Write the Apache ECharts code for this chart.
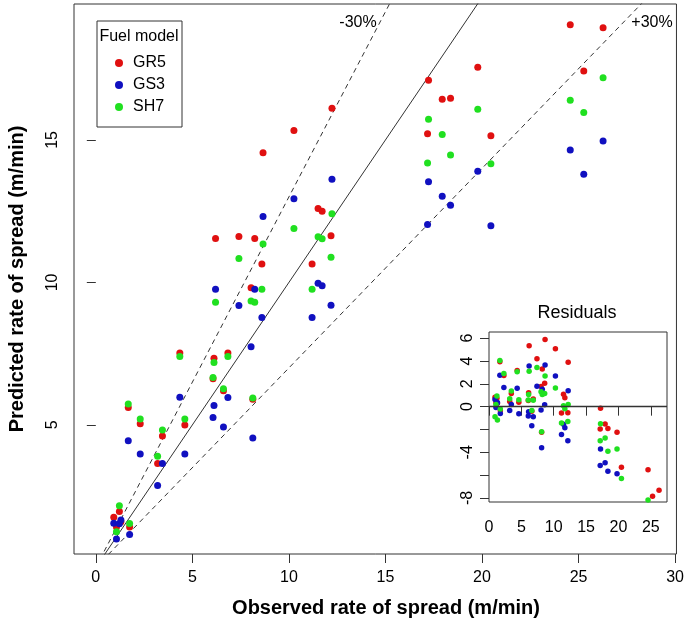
<!DOCTYPE html>
<html>
<head>
<meta charset="utf-8">
<script src="https://cdn.jsdelivr.net/npm/echarts@6/dist/echarts.min.js"></script>
<style>
html, body { margin: 0; padding: 0; background: #fff; }
#main { width: 687px; height: 627px; }
</style>
</head>
<body>
<div id="main"></div>
<script>
// observed rate of spread (m/min), one entry per fire
var observed = [0.93, 1.07, 1.22, 1.30, 1.68, 1.75, 2.30, 3.20, 3.45, 4.35, 4.61, 6.07, 6.12, 6.20, 6.61, 6.84, 7.41, 8.04, 8.13, 8.23, 8.60, 8.66, 10.26, 11.20, 11.51, 11.72, 12.18, 12.23, 17.18, 17.23, 17.94, 18.37, 19.78, 20.46, 24.57, 25.27, 26.27];
// predicted rate of spread per fuel model
var predGR5 = [1.76, 1.42, 1.96, 1.60, 5.61, 1.42, 5.04, 3.65, 4.61, 7.52, 5.00, 6.62, 7.34, 11.54, 6.20, 7.52, 11.61, 9.81, 5.90, 11.54, 10.65, 14.55, 15.33, 10.65, 12.59, 12.50, 11.64, 16.11, 15.22, 17.09, 16.43, 16.46, 17.55, 15.15, 19.04, 17.42, 18.94];
var predGS3 = [1.55, 1.00, 1.53, 1.66, 4.44, 1.15, 3.98, 2.87, 3.65, 5.97, 3.98, 5.26, 5.68, 9.76, 4.93, 5.96, 9.19, 7.74, 4.54, 9.76, 8.77, 12.31, 12.94, 8.77, 9.97, 9.88, 9.20, 13.62, 12.03, 13.53, 13.02, 12.71, 13.90, 11.99, 14.65, 13.80, 14.96];
var predSH7 = [0.05, 1.25, 2.16, 0.13, 5.73, 1.54, 5.21, 3.90, 4.82, 7.40, 5.21, 6.66, 7.19, 9.30, 6.27, 7.40, 10.84, 9.35, 5.94, 9.30, 9.76, 11.35, 11.89, 9.76, 11.60, 11.53, 10.88, 12.41, 14.19, 15.73, 15.19, 14.47, 16.08, 14.16, 16.39, 15.96, 17.18];

var modelNames = ['GR5', 'GS3', 'SH7'];
var modelColors = ['#e01010', '#1010c0', '#20e020'];
var refSlopes = [1, 1.3, 0.7];
var mainXTicks = [0, 5, 10, 15, 20, 25, 30];
var mainYTicks = [5, 10, 15];
var insetXTicks = [0, 5, 10, 15, 20, 25];
var insetYTicks = [-8, -6, -4, -2, 0, 2, 4, 6];
var insetYLabels = [-8, -4, 0, 2, 4, 6];

var FONT = 'Liberation Sans, Arial, sans-serif';
var myChart = echarts.init(document.getElementById('main'));

var preds = [predGR5, predGS3, predSH7];
var series = [];

// reference lines 1:1 and +/-30%
for (var k = 0; k < refSlopes.length; k++) {
    series.push({
        type: 'line',
        xAxisIndex: 0,
        yAxisIndex: 0,
        data: [[0, 0], [30, 30 * refSlopes[k]]],
        symbol: 'none',
        silent: true,
        z: 1,
        lineStyle: { color: '#333', width: 1, type: refSlopes[k] == 1 ? 'solid' : [5, 4] }
    });
}

for (var m = 0; m < modelNames.length; m++) {
    var pts = [];
    var res = [];
    for (var i = 0; i < observed.length; i++) {
        pts.push([observed[i], preds[m][i]]);
        res.push([observed[i], +(preds[m][i] - observed[i]).toFixed(2)]);
    }
    series.push({
        name: modelNames[m],
        type: 'scatter',
        xAxisIndex: 0,
        yAxisIndex: 0,
        data: pts,
        symbolSize: 7,
        itemStyle: { color: modelColors[m], opacity: 1 },
        z: 3
    });
    var insetSeries = {
        name: modelNames[m],
        type: 'scatter',
        xAxisIndex: 1,
        yAxisIndex: 1,
        data: res,
        symbolSize: 5.5,
        itemStyle: { color: modelColors[m], opacity: 1 },
        z: 3
    };
    if (m == 0) {
        insetSeries.markLine = {
            silent: true,
            symbol: 'none',
            label: { show: false },
            lineStyle: { color: '#333', width: 1.3, type: 'solid' },
            data: [{ yAxis: 0 }]
        };
    }
    series.push(insetSeries);
}

function axisCommon(ticks, labels, rotate, margin) {
    return {
        axisLine: { show: false },
        splitLine: { show: false },
        axisTick: { show: true, inside: false, length: 9, customValues: ticks, lineStyle: { color: '#333' } },
        axisLabel: { customValues: labels, rotate: rotate, margin: margin, color: '#000', fontSize: 16, fontFamily: FONT }
    };
}

var xMain = axisCommon(mainXTicks, mainXTicks, 0, 16);
xMain.type = 'value'; xMain.gridIndex = 0; xMain.min = -1.13; xMain.max = 30.07;
var yMain = axisCommon(mainYTicks, mainYTicks, 90, 13);
yMain.type = 'value'; yMain.gridIndex = 0; yMain.min = 0.47; yMain.max = 19.77;
var xInset = axisCommon(insetXTicks, insetXTicks, 0, 18);
xInset.type = 'value'; xInset.gridIndex = 1; xInset.min = 0; xInset.max = 27.5;
var yInset = axisCommon(insetYTicks, insetYLabels, 90, 13);
yInset.type = 'value'; yInset.gridIndex = 1; yInset.min = -8.35; yInset.max = 6.54;

var option = {
    backgroundColor: '#fff',
    animation: false,
    textStyle: { fontFamily: FONT },
    grid: [
        { left: 74, top: 4, right: 8, bottom: 73, show: true, borderColor: '#333', borderWidth: 1, backgroundColor: 'transparent' },
        { left: 489, top: 332, width: 178, height: 170, show: true, borderColor: '#333', borderWidth: 1, backgroundColor: '#fff' }
    ],
    xAxis: [xMain, xInset],
    yAxis: [yMain, yInset],
    legend: {
        data: modelNames,
        orient: 'vertical',
        left: 115,
        top: 55,
        padding: 0,
        itemGap: 6,
        itemWidth: 8,
        itemHeight: 8,
        icon: 'circle',
        selectedMode: false,
        textStyle: { fontSize: 16, color: '#000', fontFamily: FONT, padding: [0, 0, 0, 5] }
    },
    graphic: [
        { type: 'rect', shape: { x: 97, y: 21, width: 85, height: 106 }, style: { fill: 'none', stroke: '#333', lineWidth: 1 }, z: 10 },
        { type: 'text', x: 139, y: 37, style: { text: 'Fuel model', fontSize: 16, fontFamily: FONT, fill: '#000', align: 'center', verticalAlign: 'middle' }, z: 10 },
        { type: 'text', x: 358, y: 23, style: { text: '-30%', fontSize: 16, fontFamily: FONT, fill: '#000', align: 'center', verticalAlign: 'middle' }, z: 10 },
        { type: 'text', x: 652, y: 23, style: { text: '+30%', fontSize: 16, fontFamily: FONT, fill: '#000', align: 'center', verticalAlign: 'middle' }, z: 10 },
        { type: 'text', x: 577, y: 313, style: { text: 'Residuals', fontSize: 18, fontFamily: FONT, fill: '#000', align: 'center', verticalAlign: 'middle' }, z: 10 },
        { type: 'text', x: 386, y: 608, style: { text: 'Observed rate of spread (m/min)', fontSize: 20, fontWeight: 'bold', fontFamily: FONT, fill: '#000', align: 'center', verticalAlign: 'middle' }, z: 10 },
        { type: 'text', x: 17, y: 279, rotation: Math.PI / 2, style: { text: 'Predicted rate of spread (m/min)', fontSize: 20, fontWeight: 'bold', fontFamily: FONT, fill: '#000', align: 'center', verticalAlign: 'middle' }, z: 10 }
    ],
    series: series
};

myChart.setOption(option);
</script>
</body>
</html>
